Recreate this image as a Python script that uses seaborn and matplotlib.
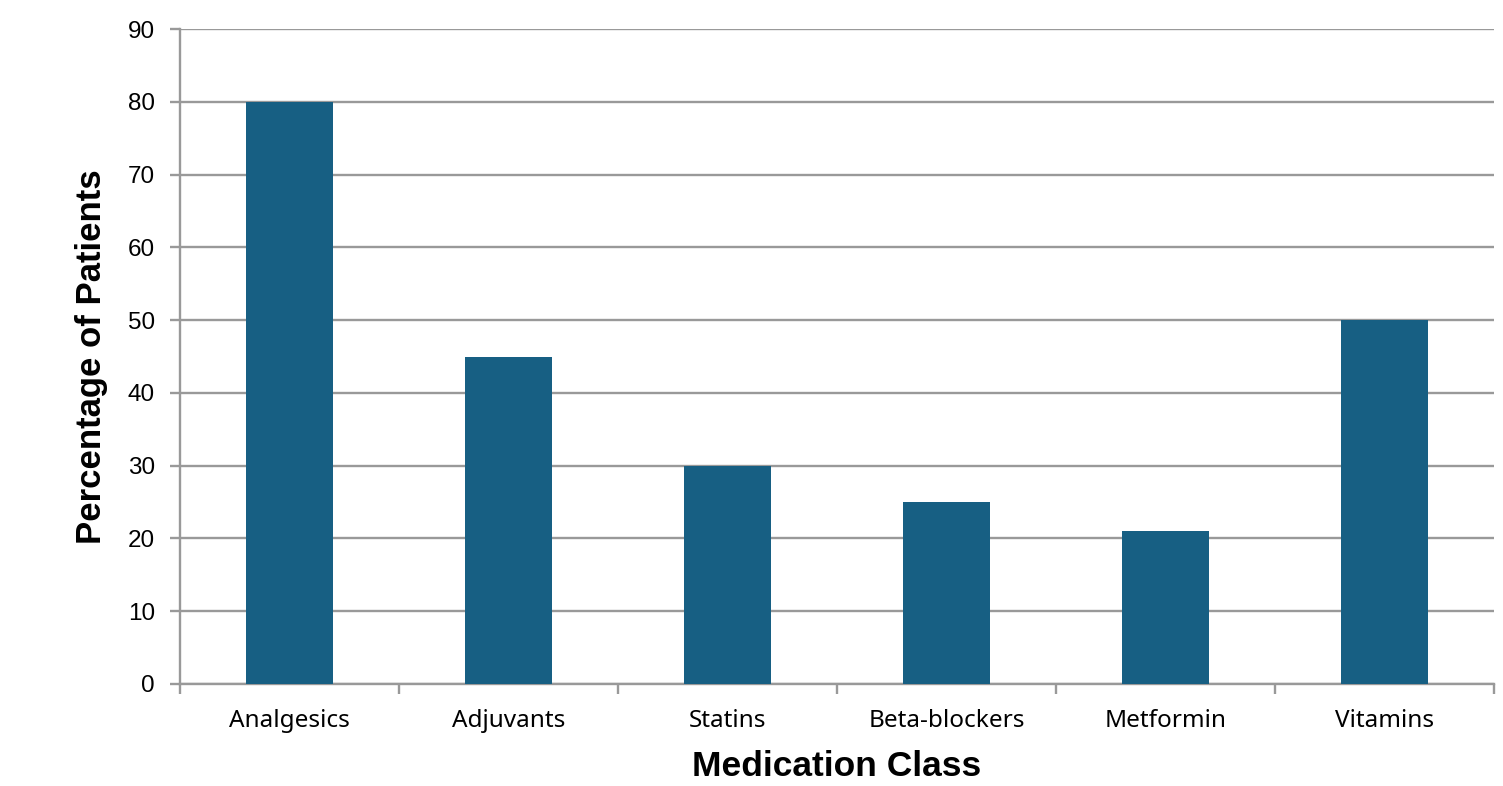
#!/usr/bin/env python3
# -*- coding: utf-8 -*-

import matplotlib as mpl
import matplotlib.pyplot as plt
import seaborn as sns
import pandas as pd
import numpy as np
from matplotlib.ticker import FixedLocator

mpl.use("Agg")

sns.set_style("white")
plt.rcParams["font.family"] = ["Liberation Sans", "DejaVu Sans"]
plt.rcParams["text.color"] = "black"
plt.rcParams["axes.labelcolor"] = "black"
plt.rcParams["xtick.color"] = "black"
plt.rcParams["ytick.color"] = "black"

# data
classes = ["Analgesics", "Adjuvants", "Statins", "Beta-blockers", "Metformin", "Vitamins"]
percent = [80, 45, 30, 25, 21, 50]

BAR_COLOR = "#175F83"
GRID_COLOR = "#999999"

df = pd.DataFrame({"Medication Class": classes, "Percentage of Patients": percent})

fig = plt.figure(figsize=(15.03, 7.86), dpi=100)
ax = fig.add_axes([180 / 1503, 1 - 684 / 786, (1494 - 180) / 1503, (684 - 29) / 786])

sns.barplot(
    data=df,
    x="Medication Class",
    y="Percentage of Patients",
    color=BAR_COLOR,
    saturation=1,
    width=0.4,
    edgecolor="none",
    linewidth=0,
    ax=ax,
    zorder=3,
)

ax.set_ylim(0, 90)
ax.set_xlim(-0.5, len(classes) - 0.5)
ax.set_yticks(np.arange(0, 91, 10))
ax.yaxis.grid(True, color=GRID_COLOR, linewidth=1.7, zorder=0)
ax.set_axisbelow(True)

# category boundary ticks like a spreadsheet chart
ax.xaxis.set_minor_locator(FixedLocator(np.arange(-0.5, len(classes), 1.0)))
ax.tick_params(axis="x", which="major", bottom=False, length=0, pad=18, labelsize=17.5)
ax.tick_params(axis="x", which="minor", bottom=True, length=7, width=1.7,
               color=GRID_COLOR, direction="out")
ax.tick_params(axis="y", which="major", left=True, length=7, width=1.7, color=GRID_COLOR,
               direction="out", labelsize=17.5, labelcolor="black", pad=11)
for lbl in ax.get_xticklabels():
    lbl.set_family(["Noto Sans", "DejaVu Sans"])

for side in ["top", "right"]:
    ax.spines[side].set_visible(False)
for side in ["left", "bottom"]:
    ax.spines[side].set_color(GRID_COLOR)
    ax.spines[side].set_linewidth(1.7)

ax.set_ylabel("Percentage of Patients", fontsize=25, fontweight="bold", labelpad=14)
ax.set_xlabel("Medication Class", fontsize=25.5, fontweight="bold", labelpad=12)

fig.savefig("out.png", dpi=100)
